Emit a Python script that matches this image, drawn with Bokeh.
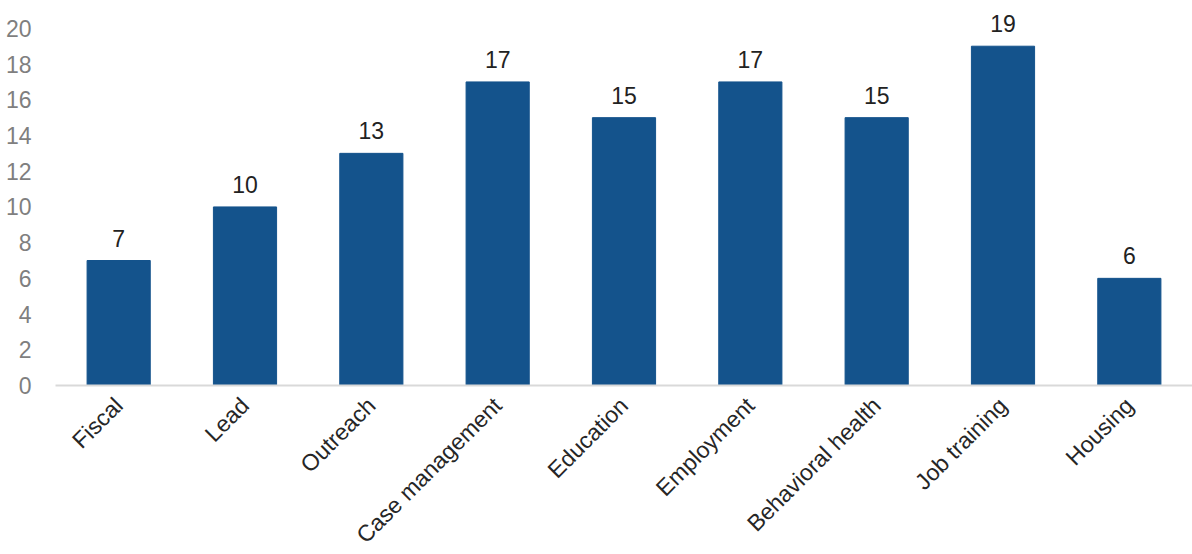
import math
from bokeh.plotting import figure
from bokeh.models import ColumnDataSource, LabelSet, SingleIntervalTicker, FactorRange
from bokeh.core.properties import value
from bokeh.embed import file_html
from bokeh.resources import INLINE

categories = ["Fiscal", "Lead", "Outreach", "Case management", "Education",
              "Employment", "Behavioral health", "Job training", "Housing"]
values = [7, 10, 13, 17, 15, 17, 15, 19, 6]
value_labels = [str(v) for v in values]

source = ColumnDataSource(dict(cat=categories, val=values, lab=value_labels))

p = figure(x_range=FactorRange(*categories, range_padding=0, start=0, end=8.96),
           y_range=(0, 21),
           frame_width=1137, frame_height=375,
           min_border_left=55, min_border_right=0, min_border_top=10, min_border_bottom=0,
           output_backend="svg", toolbar_location=None, outline_line_color=None)

p.vbar(x="cat", top="val", width=0.5, source=source, color="#14538C")

labels = LabelSet(x="cat", y="val", text="lab", source=source, text_align="center",
                  text_baseline="bottom", y_offset=14, text_font_size="23px",
                  text_color="#222222", text_font=value("Liberation Sans"))
p.add_layout(labels)

p.xgrid.grid_line_color = None
p.ygrid.grid_line_color = None

p.yaxis.ticker = SingleIntervalTicker(interval=2)
p.yaxis.axis_line_color = None
p.yaxis.major_tick_line_color = None
p.yaxis.minor_tick_line_color = None
p.yaxis.major_label_text_font_size = "23px"
p.yaxis.major_label_text_color = "#7f7f7f"
p.yaxis.major_label_text_font = "Liberation Sans"
p.yaxis.major_label_standoff = 18

p.xaxis.axis_line_color = "#d9d9d9"
p.xaxis.axis_line_width = 2
p.xaxis.major_tick_line_color = None
p.xaxis.minor_tick_line_color = None
p.xaxis.major_label_orientation = math.pi / 4
p.xaxis.major_label_text_font_size = "23px"
p.xaxis.major_label_text_color = "#262626"
p.xaxis.major_label_text_font = "Liberation Sans"
p.xaxis.major_label_standoff = 10

open("out.html", "w").write(file_html(p, INLINE))
